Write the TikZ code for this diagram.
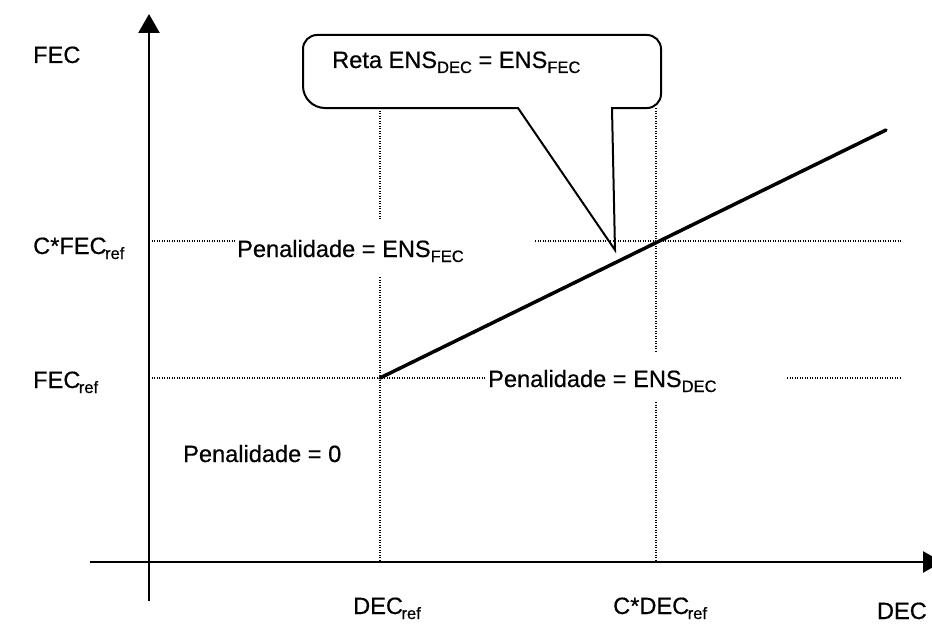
\documentclass[tikz,border=0pt]{standalone}
\usepackage{fontspec}
\setmainfont{Liberation Sans}[FakeBold=0.5]
\usetikzlibrary{arrows.meta}

% lowered subscript in the smaller size
\newcommand{\lowsub}[1]{\raisebox{-5pt}{\fontsize{16.5}{18}\selectfont #1}}

\begin{document}
\begin{tikzpicture}[x=1pt,y=-1pt,
  lbl/.style={font=\fontsize{23.6}{28}\selectfont, inner sep=0pt, anchor=base west},
  axis/.style={line width=2.6pt, -{Triangle[width=21pt,length=19pt]}},
  guide/.style={line width=1.9pt, dash pattern=on 1.4pt off 1.1pt},
  trend/.style={line width=3.5pt, line cap=round},
  bubble/.style={line width=2pt, line join=miter}]
\clip (0,0) rectangle (932,626);
\fill[white] (0,0) rectangle (932,626);

% axes
\coordinate (ybot) at (149,601);
\coordinate (ytop) at (149,14);
\coordinate (xl) at (90,562);
\coordinate (xr) at (942,562);
\draw[axis] (ybot) -- (ytop);
\draw[axis] (xl) -- (xr);

% reference levels
\coordinate (h1a) at (149,241);  \coordinate (h1b) at (235,241);
\coordinate (h1c) at (535,241);  \coordinate (h1d) at (901,241);
\coordinate (h2a) at (149,378);  \coordinate (h2b) at (485,378);
\coordinate (h2c) at (787,378);  \coordinate (h2d) at (901,378);
\coordinate (v1a) at (380,108);  \coordinate (v1b) at (380,220);
\coordinate (v1c) at (380,277);  \coordinate (v1d) at (380,562);
\coordinate (v2a) at (656,108);  \coordinate (v2b) at (656,352);
\coordinate (v2c) at (656,402);  \coordinate (v2d) at (656,562);
\draw[guide] (h1a) -- (h1b) (h1c) -- (h1d);
\draw[guide] (h2a) -- (h2b) (h2c) -- (h2d);
\draw[guide] (v1a) -- (v1b) (v1c) -- (v1d);
\draw[guide] (v2a) -- (v2b) (v2c) -- (v2d);

% penalty line
\coordinate (p0) at (380,378);
\coordinate (p1) at (886,130);
\draw[trend] (p0) -- (p1);

% callout
\draw[bubble] (518,108) -- (615,250) -- (612,108)
  [rounded corners=14pt] -- (661,108) -- (661,35) -- (303,35)
  [rounded corners=22pt] -- (303,108)
  [sharp corners] -- cycle;

% labels
\node[lbl] (fec) at (33,63) {FEC};
\node[lbl] (cfecref) at (33,254) {C*FEC\kern-1.5pt\lowsub{ref}};
\node[lbl] (fecref) at (33,388) {FEC\kern-1.5pt\lowsub{ref}};
\node[lbl] (pzero) at (183,462) {Penalidade = 0};
\node[lbl] (pfec) at (237,257) {Penalidade = ENS\lowsub{FEC}};
\node[lbl] (pdec) at (488,387) {Penalidade = ENS\lowsub{DEC}};
\node[lbl] (reta) at (332,68) {Reta ENS\lowsub{DEC} = ENS\lowsub{FEC}};
\node[lbl] (decref) at (353,614) {DEC\kern-1.5pt\lowsub{ref}};
\node[lbl] (cdecref) at (613,614) {C*DEC\kern-1.5pt\lowsub{ref}};
\node[lbl, anchor=base east] (dec) at (927,619) {DEC};
\end{tikzpicture}
\end{document}
